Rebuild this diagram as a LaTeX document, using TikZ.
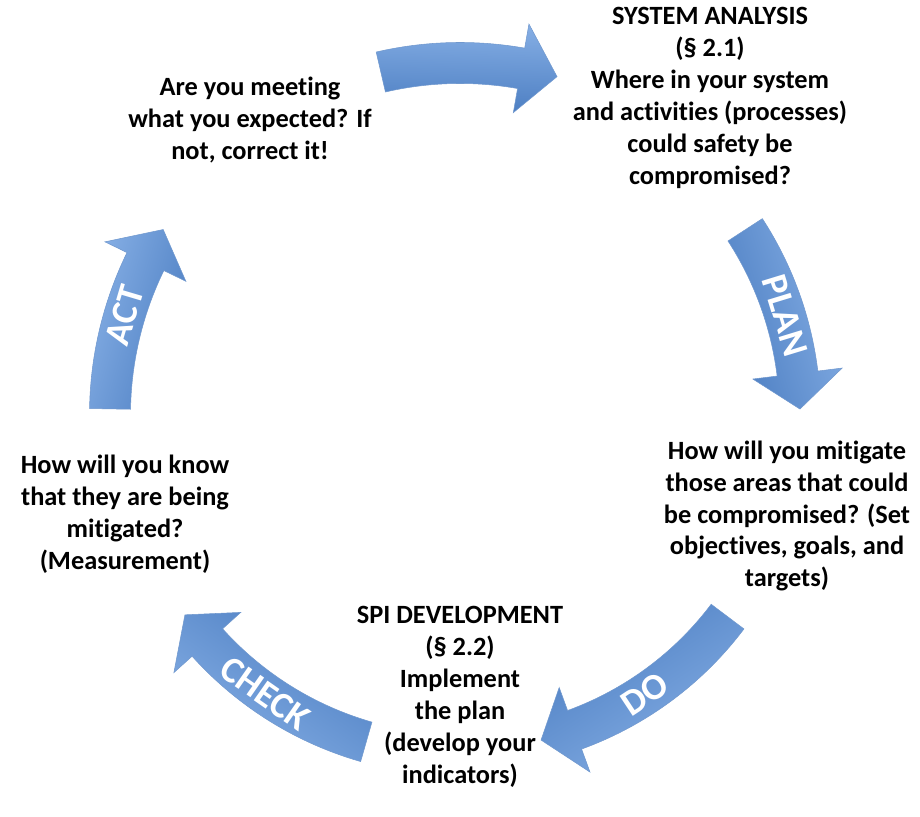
\documentclass[tikz,border=0pt]{standalone}
\usepackage{fontspec}
\setmainfont{Carlito}[Ligatures=NoCommon]
\usetikzlibrary{calc}
\definecolor{cycblue}{HTML}{5B8FD3}
\definecolor{cyclight}{HTML}{86AFE5}
\definecolor{cycdark}{HTML}{4C7EC2}

\begin{document}
\begin{tikzpicture}[
    txt/.style={align=center,font=\bfseries\fontsize{15}{18.2}\selectfont},
    lab/.style={text=white,font=\bfseries\fontsize{21}{24}\selectfont},
    cyc/.style={draw=cycdark!80,line width=0.3pt,top color=cyclight,middle color=cycblue,bottom color=cycdark}
]
\useasboundingbox (0,0) rectangle (18.4,16.32);
\coordinate (O) at (9.2,8.02);

% the five curved arrows: tail angle / tip angle / radius
\begin{scope}[shift={(O)}]
    \foreach \a/\b/\r in {103/74/7.04,33/1/6.8,-37/-76/6.7,-106/-144/6.8,179/148/7.0}{
        \pgfmathsetmacro\c{\b+6}
        \pgfmathsetmacro\sa{(\a+\b)/2-90}
        \pgfmathsetmacro\ro{\r+0.41}
        \pgfmathsetmacro\ri{\r-0.41}
        \pgfmathsetmacro\hu{\r+0.9}
        \pgfmathsetmacro\hd{\r-0.9}
        \path[cyc,shading angle=\sa] (\a:\ro) arc[start angle=\a,end angle=\c,radius=\ro]
            -- (\c:\hu) -- (\b:\r) -- (\c:\hd) -- (\c:\ri)
            arc[start angle=\c,end angle=\a,radius=\ri] -- cycle;
    }
    \node[lab,rotate=-73] (plan) at (17:6.8) {PLAN};
    \node[lab,rotate=33.5] (do) at (-56.5:6.7) {DO};
    \node[lab,rotate=-35] (check) at (-125:6.8) {CHECK};
    \node[lab,rotate=73.5] (act) at (163.5:7.0) {ACT};
\end{scope}

\node[txt] (meet) at (5.0,13.92) {Are you meeting\\what you expected? If\\not, correct it!};
\node[txt] (sys) at (14.2,14.37) {SYSTEM ANALYSIS\\(§ 2.1)\\Where in your system\\and activities (processes)\\could safety be\\compromised?};
\node[txt] (mitig) at (15.74,6.0) {How will you mitigate\\those areas that could\\be compromised? (Set\\objectives, goals, and\\targets)};
\node[txt] (spi) at (9.2,2.38) {SPI DEVELOPMENT\\(§ 2.2)\\Implement\\the plan\\(develop your\\indicators)};
\node[txt] (know) at (2.5,6.04) {How will you know\\that they are being\\mitigated?\\(Measurement)};
\end{tikzpicture}
\end{document}
